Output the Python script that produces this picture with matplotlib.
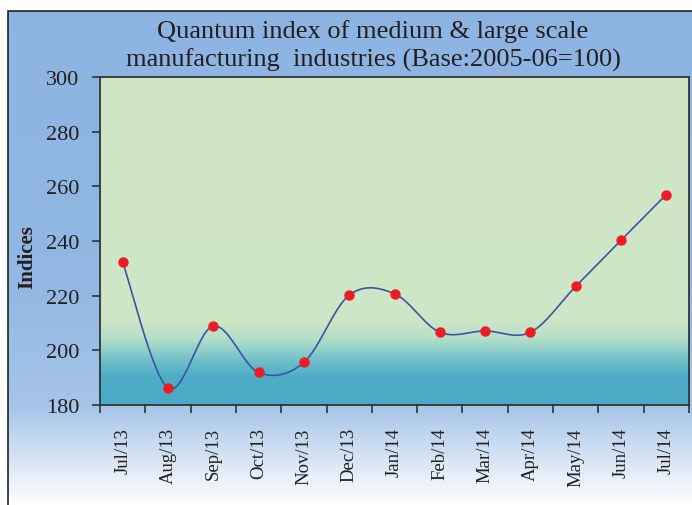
import numpy as np
import matplotlib
matplotlib.use('Agg')
import matplotlib.pyplot as plt
from matplotlib.colors import LinearSegmentedColormap
from matplotlib.patches import Rectangle

# maanden en indexwaarden
maanden = ['Jul/13', 'Aug/13', 'Sep/13', 'Oct/13', 'Nov/13', 'Dec/13', 'Jan/14',
           'Feb/14', 'Mar/14', 'Apr/14', 'May/14', 'Jun/14', 'Jul/14']
indices = [232.3, 186.2, 208.9, 191.9, 195.6, 220.2, 220.7,
           206.6, 207.1, 206.6, 223.4, 240.3, 257.0]
y_ticks = [180, 200, 220, 240, 260, 280, 300]

titel = 'Quantum index of medium & large scale\nmanufacturing  industries (Base:2005-06=100)'

serif = ['Liberation Serif', 'DejaVu Serif']
plt.rcParams['font.family'] = serif

W, H = 692, 506
fig = plt.figure(figsize=(W / 100, H / 100), dpi=100)

# achtergrond van de figuur: blauw naar wit verloop
bg = fig.add_axes([0, 0, 1, 1], zorder=-5)
bg.set_xlim(0, 1)
bg.set_ylim(0, 1)
bg.axis('off')
fig_cmap = LinearSegmentedColormap.from_list('fig', [
    (0.0, (1, 1, 1)),
    (0.2, (0.65, 0.77, 0.91)),
    (0.45, (0.57, 0.72, 0.89)),
    (1.0, (0.553, 0.706, 0.886))])
grad = np.linspace(0, 1, 256).reshape(-1, 1)
top = 1 - 12 / H
bg.imshow(grad, cmap=fig_cmap, origin='lower', aspect='auto',
          extent=[8 / W, 1.01, 0, top])
bg.add_patch(Rectangle((8 / W, -0.01), 1.0, top + 0.01, fill=False,
                       edgecolor='#222222', linewidth=1.2))

# plotgebied
ax = fig.add_axes([100 / W, 1 - 406 / H, 589 / W, 328 / H])
plot_cmap = LinearSegmentedColormap.from_list('plot', [
    (0.0, (75 / 255, 170 / 255, 198 / 255)),
    (10 / 120, (78 / 255, 172 / 255, 199 / 255)),
    (16 / 120, (110 / 255, 190 / 255, 200 / 255)),
    (20 / 120, (145 / 255, 208 / 255, 200 / 255)),
    (25 / 120, (185 / 255, 224 / 255, 200 / 255)),
    (31 / 120, (205 / 255, 230 / 255, 197 / 255)),
    (1.0, (208 / 255, 231 / 255, 197 / 255))])
ax.imshow(grad, cmap=plot_cmap, origin='lower', aspect='auto',
          extent=[-0.5, len(maanden) - 0.5, 180, 300], zorder=0)

# gladde lijn (Catmull-Rom, zoals Excel)
x = np.arange(len(indices), dtype=float)
y = np.array(indices)
px = np.concatenate([[x[0]], x, [x[-1]]])
py = np.concatenate([[y[0]], y, [y[-1]]])
t = np.linspace(0, 1, 30)
lx, ly = [], []
for i in range(1, len(px) - 2):
    p0 = np.array([px[i], py[i]])
    p3 = np.array([px[i + 1], py[i + 1]])
    c1 = p0 + (np.array([px[i + 1], py[i + 1]]) - np.array([px[i - 1], py[i - 1]])) / 6
    c2 = p3 - (np.array([px[i + 2], py[i + 2]]) - np.array([px[i], py[i]])) / 6
    b = ((1 - t) ** 3)[:, None] * p0 + (3 * (1 - t) ** 2 * t)[:, None] * c1 \
        + (3 * (1 - t) * t ** 2)[:, None] * c2 + (t ** 3)[:, None] * p3
    lx.extend(b[:, 0])
    ly.extend(b[:, 1])
ax.plot(lx, ly, color='#3A55A5', linewidth=1.2, zorder=2)
ax.plot(x, y, 'o', color='#ED1C24', markersize=6.5, zorder=3)

ax.set_xlim(-0.5, len(maanden) - 0.5)
ax.set_ylim(180, 300)
ax.set_yticks(y_ticks)
ax.set_yticklabels([str(v) for v in y_ticks], fontsize=16, color='#231F20')
ax.set_xticks(x)
ax.set_xticklabels(maanden, rotation=90, fontsize=13.5, color='#231F20')
ax.tick_params(axis='x', length=0, pad=16)
ax.set_xticks(np.arange(-0.5, len(maanden)), minor=True)
ax.tick_params(axis='x', which='minor', length=6, width=1.2, color='#333333')
ax.tick_params(axis='y', length=6, width=1.2, color='#333333', pad=9)
for s in ax.spines.values():
    s.set_color('#333333')
    s.set_linewidth(1.3)

fig.text(27 / W, 1 - 257 / H, 'Indices', rotation=90, fontsize=15,
         fontweight='bold', ha='center', va='center', color='#231F20')
fig.text(373 / W, 1 - 46 / H, titel, fontsize=19, ha='center', va='center',
         color='#231F20', linespacing=1.3)

fig.savefig('out.png', dpi=100)
